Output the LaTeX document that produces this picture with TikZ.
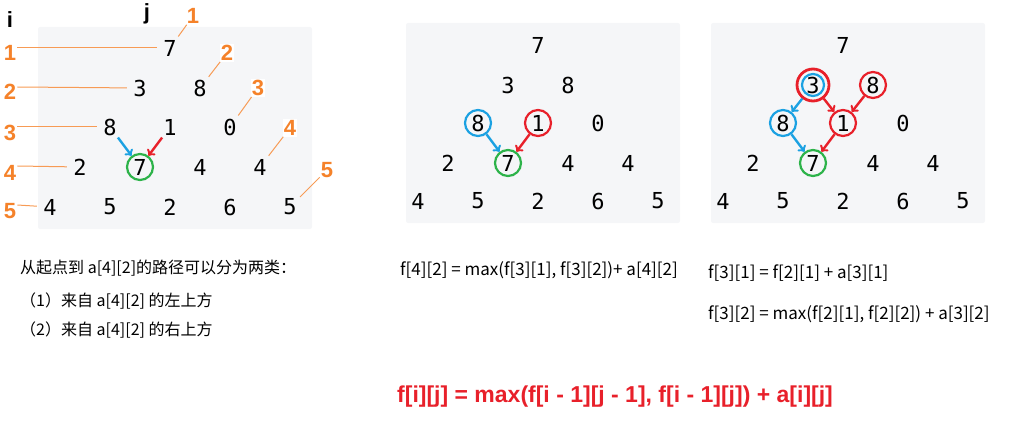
\documentclass[tikz,border=0pt]{standalone}
\usepackage{fontspec}
\setmainfont{Liberation Sans}
\setmonofont{DejaVu Sans Mono}
\newfontfamily\cjk{Noto Sans CJK SC}
\usepackage{xcolor}
\usepackage{tikz}
\definecolor{panelgray}{HTML}{F5F6F8}
\definecolor{idxorange}{HTML}{F5822A}
\definecolor{pathblue}{HTML}{1BA1E2}
\definecolor{pathred}{HTML}{E8202A}
\definecolor{pathgreen}{HTML}{2DB34A}
\tikzset{num/.style={circle, inner sep=0pt, minimum size=26pt, font=\ttfamily\fontsize{22}{22}\selectfont}}
\tikzset{idx/.style={inner sep=1pt, fill=white, text=idxorange, font=\bfseries\fontsize{22}{22}\selectfont}}
\tikzset{idxline/.style={draw=idxorange!80, line width=1pt}}
\tikzset{ring/.style={draw=#1, line width=2.2pt}}
\tikzset{move/.style={->, draw=#1, line width=2.4pt}}
\tikzset{note/.style={anchor=west, inner sep=0pt, font=\cjk\fontsize{16}{16}\selectfont}}
\tikzset{eqn/.style={anchor=west, inner sep=0pt, font=\cjk\fontsize{17}{17}\selectfont}}

\begin{document}
\begin{tikzpicture}[x=1pt,y=-1pt]
    \useasboundingbox (0,0) rectangle (1018,433);

    \fill[panelgray, rounded corners=2pt] (38,27) rectangle (312,229);
    \fill[panelgray, rounded corners=2pt] (406,23) rectangle (680,223);
    \fill[panelgray, rounded corners=2pt] (711,23) rectangle (985,223);

    % first triangle, with i and j
    \node[num] at (170,48) (a11){7};
    \node[num] at (140,88) (a21){3};
    \node[num] at (200,88) (a22){8};
    \node[num] at (110,127) (a31){8};
    \node[num] at (170,127) (a32){1};
    \node[num] at (230,127) (a33){0};
    \node[num] at (80,167) (a41){2};
    \node[num, ring=pathgreen] at (140,167) (a42){7};
    \node[num] at (200,167) (a43){4};
    \node[num] at (260,167) (a44){4};
    \node[num] at (50,207) (a51){4};
    \node[num] at (110,207) (a52){5};
    \node[num] at (170,207) (a53){2};
    \node[num] at (230,207) (a54){6};
    \node[num] at (290,207) (a55){5};

    \node[font=\bfseries\fontsize{22}{22}\selectfont] at (10,20) (irow){i};
    \node[font=\bfseries\fontsize{22}{22}\selectfont] at (147,14) (jcol){j};

    \node[idx] at (10,53) (r1){1};
    \node[idx] at (10,92) (r2){2};
    \node[idx] at (10,133) (r3){3};
    \node[idx] at (10,173) (r4){4};
    \node[idx] at (10,211) (r5){5};

    \draw[idxline] ([yshift=5pt]r1.east) -- (a11);
    \draw[idxline] ([yshift=5pt]r2.east) -- (a21);
    \draw[idxline] ([yshift=6pt]r3.east) -- (a31);
    \draw[idxline] ([yshift=7pt]r4.east) -- (a41);
    \draw[idxline] ([yshift=6pt]r5.east) -- (a51);

    \node[idx] at (193,16) (k1){1};
    \node[idx] at (227,53) (k2){2};
    \node[idx] at (258,88) (k3){3};
    \node[idx] at (290,128) (k4){4};
    \node[idx] at (327,170) (k5){5};

    \draw[idxline, shorten <=1pt] (a11) -- (k1);
    \draw[idxline, shorten <=1pt] (a22) -- (k2);
    \draw[idxline, shorten <=1pt] (a33) -- (k3);
    \draw[idxline, shorten <=1pt] (a44) -- (k4);
    \draw[idxline, shorten <=1pt] (a55) -- (k5);

    \draw[move=pathblue] (a31) -- (a42);
    \draw[move=pathred] (a32) -- (a42);

    % second triangle
    \node[num] at (538,45) (b11){7};
    \node[num] at (508,85) (b21){3};
    \node[num] at (568,85) (b22){8};
    \node[num, ring=pathblue] at (478,123) (b31){8};
    \node[num, ring=pathred] at (538,123) (b32){1};
    \node[num] at (598,123) (b33){0};
    \node[num] at (448,163) (b41){2};
    \node[num, ring=pathgreen] at (508,163) (b42){7};
    \node[num] at (568,163) (b43){4};
    \node[num] at (628,163) (b44){4};
    \node[num] at (418,201) (b51){4};
    \node[num] at (478,201) (b52){5};
    \node[num] at (538,201) (b53){2};
    \node[num] at (598,201) (b54){6};
    \node[num] at (658,201) (b55){5};

    \draw[move=pathblue] (b31) -- (b42);
    \draw[move=pathred] (b32) -- (b42);

    % third triangle
    \node[num] at (843,45) (c11){7};
    \node[num, ring=pathblue, minimum size=22pt] at (813,85) (c21){3};
    \node[circle, ring=pathred, line width=2.8pt, minimum size=32pt] at (c21) (c21o){};
    \node[num, ring=pathred] at (873,85) (c22){8};
    \node[num, ring=pathblue] at (783,123) (c31){8};
    \node[num, ring=pathred] at (843,123) (c32){1};
    \node[num] at (903,123) (c33){0};
    \node[num] at (753,163) (c41){2};
    \node[num, ring=pathgreen] at (813,163) (c42){7};
    \node[num] at (873,163) (c43){4};
    \node[num] at (933,163) (c44){4};
    \node[num] at (723,201) (c51){4};
    \node[num] at (783,201) (c52){5};
    \node[num] at (843,201) (c53){2};
    \node[num] at (903,201) (c54){6};
    \node[num] at (963,201) (c55){5};

    \draw[move=pathblue] (c21o) -- (c31);
    \draw[move=pathred] (c21o) -- (c32);
    \draw[move=pathred] (c22) -- (c32);
    \draw[move=pathblue] (c31) -- (c42);
    \draw[move=pathred] (c32) -- (c42);

    % text under the pictures
    \node[note] at (20,268) (t1){从起点到 a[4][2]的路径可以分为两类：};
    \node[note] at (20,301) (t2){（1）来自 a[4][2] 的左上方};
    \node[note] at (20,330) (t3){（2）来自 a[4][2] 的右上方};

    \node[eqn] at (400,270) (e1){f[4][2] = max(f[3][1], f[3][2])+ a[4][2]};
    \node[eqn] at (708,273) (e2){f[3][1] = f[2][1] + a[3][1]};
    \node[eqn] at (708,314) (e3){f[3][2] = max(f[2][1], f[2][2]) + a[3][2]};

    \node[anchor=west, inner sep=0pt, text=pathred, font=\bfseries\fontsize{23}{23}\selectfont] at (397,397) (rule){f[i][j] = max(f[i - 1][j - 1], f[i - 1][j]) + a[i][j]};
\end{tikzpicture}
\end{document}
